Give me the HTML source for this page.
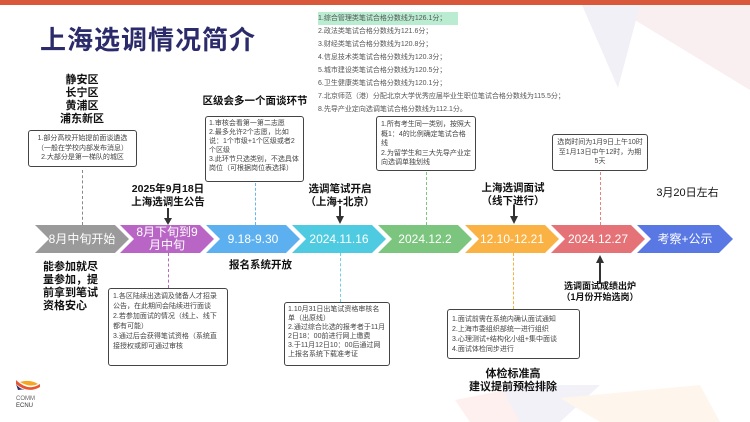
<!DOCTYPE html>
<html><head><meta charset="utf-8">
<style>
*{margin:0;padding:0;box-sizing:border-box}
body{width:750px;height:422px;position:relative;overflow:hidden;background:#fff;font-family:"Liberation Sans","Noto Sans CJK SC",sans-serif;color:#222}
.a{position:absolute}
.box{position:absolute;border:1px solid #444;border-radius:3px;background:#fff;font-size:7px;line-height:9.5px;padding:3px 4px;color:#444;overflow:hidden}
.lbl{position:absolute;font-weight:bold;font-size:10.5px;line-height:13px;text-align:center;color:#111}
.seg{position:absolute;top:225px;height:28px;color:#fff;font-size:12px;display:flex;align-items:center;justify-content:center;text-align:center;line-height:13px;clip-path:polygon(0 0,calc(100% - 14px) 0,100% 50%,calc(100% - 14px) 100%,0 100%,14px 50%)}
.dl{position:absolute;width:0;border-left:1.5px dashed}
.list div{height:13px;font-size:7px;line-height:13px;color:#555;white-space:nowrap}
</style></head><body>
<div class="a" style="left:0;top:0;width:750px;height:5px;background:#d9573a"></div>
<svg class="a" style="left:0;top:0" width="750" height="422">
<polygon points="610,5 750,5 750,90" fill="#f9eef0"/>
<polygon points="582,5 640,5 618,88" fill="#f1f0f6"/>
<polygon points="455,400 530,385 560,422 470,422" fill="#fdf0ee"/>
<polygon points="500,385 600,385 560,422 520,422" fill="#f1f1f7"/>
<polygon points="560,398 700,385 720,422 600,422" fill="#fef6ec"/>
</svg>
<div class="a" style="left:40px;top:20px;font-size:26px;font-weight:bold;color:#2b2a6b;letter-spacing:1px">上海选调情况简介</div>
<div class="a list" style="left:318px;top:12px">
<div style="background:#b9ecd0;width:140px">1.综合管理类笔试合格分数线为126.1分；</div>
<div>2.政法类笔试合格分数线为121.6分；</div>
<div>3.财经类笔试合格分数线为120.8分；</div>
<div>4.信息技术类笔试合格分数线为120.3分；</div>
<div>5.城市建设类笔试合格分数线为120.5分；</div>
<div>6.卫生健康类笔试合格分数线为120.1分；</div>
<div>7.北京师范（港）分配北京大学优秀应届毕业生职位笔试合格分数线为115.5分；</div>
<div>8.先导产业定向选调笔试合格分数线为112.1分。</div>
</div>
<div class="lbl" style="left:52px;top:74px;width:60px;font-size:11px;line-height:13px">静安区<br>长宁区<br>黄浦区<br>浦东新区</div>
<div class="box" style="left:28px;top:130px;width:109px;height:37px;text-align:center;padding:3px 2px">1.部分高校开始提前面谈遴选（一般在学校内部发布消息）<br>2.大部分是第一梯队的城区</div>
<div class="dl" style="left:82px;top:170px;height:55px;border-color:#888"></div>
<div class="lbl" style="left:118px;top:183px;width:100px">2025年9月18日<br>上海选调生公告</div>
<div class="a" style="left:167px;top:208px;width:1.5px;height:12px;background:#333"></div>
<div class="a" style="left:164px;top:218px;border-left:4px solid transparent;border-right:4px solid transparent;border-top:7px solid #333"></div>
<div class="lbl" style="left:195px;top:95px;width:120px">区级会多一个面谈环节</div>
<div class="box" style="left:205px;top:116px;width:99px;height:66px;line-height:9px;padding:2px 3px">1.审核会看第一第二志愿<br>2.最多允许2个志愿，比如说：1个市级+1个区级或者2个区级<br>3.此环节只选类别，不选具体岗位（可根据岗位表选择）</div>
<div class="dl" style="left:255px;top:183px;height:42px;border-color:#6ab4ee"></div>
<div class="lbl" style="left:290px;top:183px;width:100px">选调笔试开启<br>（上海+北京）</div>
<div class="a" style="left:339px;top:206px;width:1.5px;height:12px;background:#333"></div>
<div class="a" style="left:336px;top:216px;border-left:4px solid transparent;border-right:4px solid transparent;border-top:8px solid #333"></div>
<div class="box" style="left:376px;top:116px;width:100px;height:55px">1.所有考生同一类别，按照大概1：4的比例确定笔试合格线<br>2.为留学生和三大先导产业定向选调单独划线</div>
<div class="dl" style="left:426px;top:172px;height:53px;border-color:#7cc57c"></div>
<div class="lbl" style="left:463px;top:182px;width:100px">上海选调面试<br>（线下进行）</div>
<div class="a" style="left:513px;top:205px;width:1.5px;height:13px;background:#333"></div>
<div class="a" style="left:510px;top:216px;border-left:4px solid transparent;border-right:4px solid transparent;border-top:8px solid #333"></div>
<div class="box" style="left:552px;top:134px;width:96px;height:37px;text-align:center">选岗时间为1月9日上午10时至1月13日中午12时，为期5天</div>
<div class="dl" style="left:600px;top:172px;height:53px;border-color:#e88080"></div>
<div class="lbl" style="left:650px;top:187px;width:75px;font-weight:normal;font-size:11px">3月20日左右</div>

<div class="seg" style="left:35px;width:94px;background:#9a9a9a">8月中旬开始</div>
<div class="seg" style="left:120px;width:94px;background:#b865c6">8月下旬到9<br>月中旬</div>
<div class="seg" style="left:206px;width:94px;background:#5db0ef">9.18-9.30</div>
<div class="seg" style="left:292px;width:94px;background:#4ecbe0">2024.11.16</div>
<div class="seg" style="left:378px;width:94px;background:#7bc57e">2024.12.2</div>
<div class="seg" style="left:465px;width:94px;background:#fbb245">12.10-12.21</div>
<div class="seg" style="left:551px;width:94px;background:#e47276">2024.12.27</div>
<div class="seg" style="left:637px;width:96px;background:#5978e4">考察+公示</div>

<div class="lbl" style="left:43px;top:261px;width:56px;text-align:left;font-size:11px;line-height:13px">能参加就尽量参加，提前拿到笔试资格安心</div>
<div class="dl" style="left:168px;top:253px;height:35px;border-color:#b865c6"></div>
<div class="box" style="left:108px;top:288px;width:120px;height:78px;line-height:10px">1.各区陆续出选调及储备人才招录公告，在此期间会陆续进行面谈<br>2.若参加面试的情况（线上、线下都有可能）<br>3.通过后会获得笔试资格（系统直接授权或即可通过审核</div>
<div class="lbl" style="left:228px;top:259px;width:65px">报名系统开放</div>
<div class="dl" style="left:340px;top:253px;height:49px;border-color:#6cd0e6"></div>
<div class="box" style="left:284px;top:302px;width:106px;height:64px;line-height:9px;padding:2px 3px">1.10月31日出笔试资格审核名单（出原线）<br>2.通过综合比选的报考者于11月2日18：00前进行网上缴费<br>3.于11月12日10：00后通过网上报名系统下载准考证</div>
<div class="dl" style="left:513px;top:253px;height:56px;border-color:#f8b040"></div>
<div class="box" style="left:447px;top:309px;width:133px;height:50px;padding:5px 4px;line-height:10px">1.面试前需在系统内确认面试通知<br>2.上海市委组织部统一进行组织<br>3.心理测试+结构化小组+集中面谈<br>4.面试体检同步进行</div>
<div class="lbl" style="left:453px;top:368px;width:120px;font-size:11px">体检标准高<br>建议提前预检排除</div>
<div class="a" style="left:599px;top:262px;width:1.5px;height:22px;background:#333"></div>
<div class="a" style="left:596px;top:255px;border-left:4px solid transparent;border-right:4px solid transparent;border-bottom:8px solid #333"></div>
<div class="lbl" style="left:550px;top:281px;width:100px;font-size:9px;line-height:11px">选调面试成绩出炉<br>（1月份开始选岗）</div>

<svg class="a" style="left:14px;top:378px" width="28" height="30">
<path d="M2 2 Q14 14 26 6 L26 9 Q14 16 2 6Z" fill="#e8552f"/>
<path d="M6 4 Q16 1 24 6 Q16 10 6 4Z" fill="#f5a623"/>
<path d="M2 6 Q6 12 12 11 L4 12Z" fill="#2b2a6b"/>
<text x="2" y="22" font-size="6" fill="#666" font-family="Liberation Sans">COMM</text>
<text x="2" y="29" font-size="6" fill="#333" font-family="Liberation Sans">ECNU</text>
</svg>
</body></html>
